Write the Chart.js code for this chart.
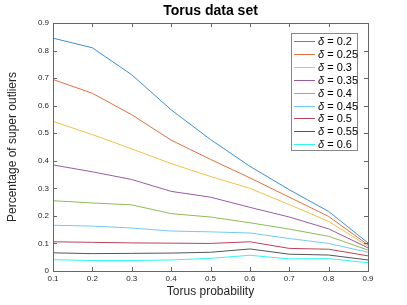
<!DOCTYPE html>
<html>
<head>
<meta charset="utf-8">
<script src="https://cdn.jsdelivr.net/npm/chart.js@4"></script>
<style>
  html, body { margin: 0; padding: 0; background: #fff; }
  canvas { display: block; }
</style>
</head>
<body>
<canvas id="chart" width="407" height="305"></canvas>
<script>
// x axis: torus probability
const probabilitats = [0.1, 0.2, 0.3, 0.4, 0.5, 0.6, 0.7, 0.8, 0.9];
const deltes = ['0.2', '0.25', '0.3', '0.35', '0.4', '0.45', '0.5', '0.55', '0.6'];

// percentage of super outliers, one array per delta
const d020 = [0.845, 0.81, 0.712, 0.585, 0.477, 0.38, 0.295, 0.216, 0.102];
const d025 = [0.695, 0.645, 0.567, 0.475, 0.405, 0.338, 0.268, 0.198, 0.095];
const d030 = [0.543, 0.495, 0.443, 0.39, 0.343, 0.3, 0.241, 0.18, 0.09];
const d035 = [0.385, 0.36, 0.332, 0.289, 0.268, 0.231, 0.196, 0.153, 0.084];
const d040 = [0.255, 0.247, 0.24, 0.208, 0.196, 0.175, 0.152, 0.126, 0.076];
const d045 = [0.166, 0.163, 0.156, 0.145, 0.142, 0.138, 0.118, 0.1, 0.068];
const d050 = [0.106, 0.104, 0.102, 0.101, 0.1, 0.106, 0.082, 0.079, 0.055];
const d055 = [0.066, 0.063, 0.064, 0.065, 0.068, 0.08, 0.061, 0.058, 0.04];
const d060 = [0.041, 0.038, 0.038, 0.04, 0.046, 0.057, 0.044, 0.045, 0.03];

const series = [d020, d025, d030, d035, d040, d045, d050, d055, d060];
// MATLAB colours, a bit lighter like the thin anti-aliased lines of the original
const colors = ['#3d8fd0', '#e0713f', '#f0c04a', '#9a5aa8', '#8fbc55',
                '#72cbf0', '#b84458', '#555555', '#30f5f5'];

const FONT = '"Liberation Sans", Arial, sans-serif';
const AXIS = '#262626';

const datasets = series.map((vals, i) => ({
  label: 'δ = ' + deltes[i],
  data: vals.map((v, j) => ({ x: probabilitats[j], y: v })),
  borderColor: colors[i],
  backgroundColor: colors[i],
  borderWidth: 1,
  pointRadius: 0,
  tension: 0,
  fill: false
}));

// title, box, inward ticks and legend, MATLAB style
const matlabLook = {
  id: 'matlabLook',
  afterDraw(chart) {
    const ctx = chart.ctx;
    const a = chart.chartArea;
    const sx = chart.scales.x, sy = chart.scales.y;
    ctx.save();

    // box
    ctx.strokeStyle = '#666';
    ctx.lineWidth = 1;
    ctx.strokeRect(Math.round(a.left) + 0.5, Math.round(a.top) + 0.5,
      Math.round(a.right - a.left), Math.round(a.bottom - a.top));

    // inward ticks on all four sides
    ctx.beginPath();
    sx.ticks.forEach(t => {
      const x = Math.round(sx.getPixelForValue(t.value)) + 0.5;
      ctx.moveTo(x, a.bottom); ctx.lineTo(x, a.bottom - 4);
      ctx.moveTo(x, a.top); ctx.lineTo(x, a.top + 4);
    });
    sy.ticks.forEach(t => {
      const y = Math.round(sy.getPixelForValue(t.value)) + 0.5;
      ctx.moveTo(a.left, y); ctx.lineTo(a.left + 4, y);
      ctx.moveTo(a.right, y); ctx.lineTo(a.right - 4, y);
    });
    ctx.stroke();

    // title
    ctx.fillStyle = '#000';
    ctx.font = 'bold 14px ' + FONT;
    ctx.textAlign = 'center';
    ctx.textBaseline = 'middle';
    ctx.fillText('Torus data set', (a.left + a.right) / 2, 11);

    // legend
    const lx = 291, ly = 33, lw = 66, lh = 117;
    ctx.fillStyle = '#fff';
    ctx.fillRect(lx, ly, lw, lh);
    ctx.strokeStyle = '#888';
    ctx.strokeRect(lx + 0.5, ly + 0.5, lw, lh);
    chart.data.datasets.forEach((ds, i) => {
      const y = Math.round(ly + 8 + i * 12.9) + 0.5;
      ctx.strokeStyle = ds.borderColor;
      ctx.beginPath();
      ctx.moveTo(lx + 3, y); ctx.lineTo(lx + 24, y);
      ctx.stroke();
      ctx.fillStyle = '#000';
      ctx.textAlign = 'left';
      ctx.font = 'italic 11px ' + FONT;
      ctx.fillText('δ', lx + 27, y);
      const w = ctx.measureText('δ').width;
      ctx.font = '11px ' + FONT;
      ctx.fillText(' = ' + deltes[i], lx + 27 + w, y);
    });
    ctx.restore();
  }
};

new Chart(document.getElementById('chart'), {
  type: 'line',
  data: { datasets: datasets },
  options: {
    responsive: false,
    animation: false,
    devicePixelRatio: 1,
    layout: { padding: { top: 23, right: 39, left: 0, bottom: 0 } },
    plugins: {
      legend: { display: false },
      title: { display: false },
      tooltip: { enabled: false }
    },
    scales: {
      x: {
        type: 'linear',
        min: 0.1,
        max: 0.9,
        afterFit: s => { s.height = 34; },
        ticks: {
          stepSize: 0.1,
          maxRotation: 0,
          padding: 3,
          color: AXIS,
          font: { family: FONT, size: 8 },
          callback: v => +v.toFixed(1)
        },
        grid: { drawOnChartArea: false, drawTicks: false },
        border: { display: false },
        title: {
          display: true,
          text: 'Torus probability',
          color: AXIS,
          font: { family: FONT, size: 12 },
          padding: { top: 0, bottom: 6 }
        }
      },
      y: {
        min: 0,
        max: 0.9,
        afterFit: s => { s.width = 53; },
        ticks: {
          stepSize: 0.1,
          padding: 4,
          color: AXIS,
          font: { family: FONT, size: 8 },
          callback: v => +v.toFixed(1)
        },
        grid: { drawOnChartArea: false, drawTicks: false },
        border: { display: false },
        title: {
          display: true,
          text: 'Percentage of super outliers',
          color: AXIS,
          font: { family: FONT, size: 12 },
          padding: { top: 5, bottom: 0 }
        }
      }
    }
  },
  plugins: [matlabLook]
});
</script>
</body>
</html>
